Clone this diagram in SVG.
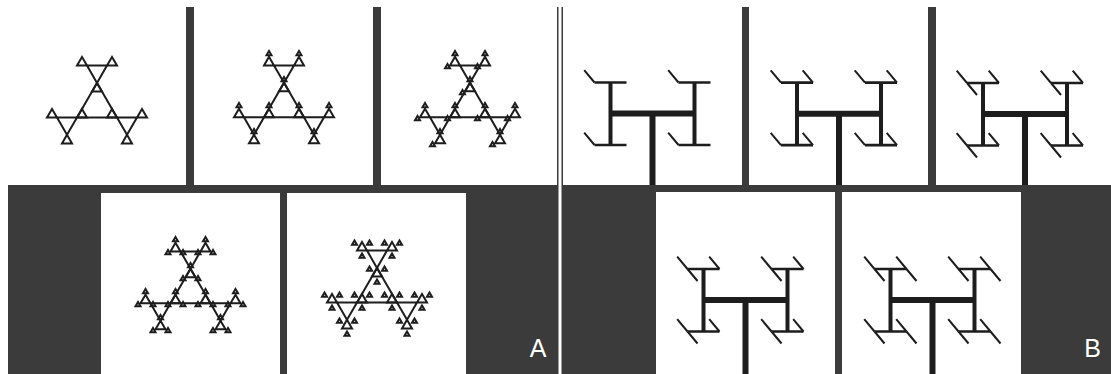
<svg xmlns="http://www.w3.org/2000/svg" xmlns:xlink="http://www.w3.org/1999/xlink" width="1111" height="374" viewBox="0 0 1111 374">
<style>
.panel{fill:#3b3b3b}
.cell{fill:#ffffff}
.lbl{font-family:"Liberation Sans",Arial,sans-serif;font-size:25px;fill:#ffffff;text-anchor:middle}
.trunk{fill:none;stroke:#1d1d1d;stroke-width:6}
</style>
<defs>
<path id="t" d="M0,-23.094L-20,11.547L20,11.547Z" fill="none" stroke="#1d1d1d" stroke-width="2" vector-effect="non-scaling-stroke"/>
<g id="R"><use href="#t"/><use href="#t" transform="matrix(-.5,0,0,-.5,0,-34.641)"/><use href="#t" transform="matrix(-.5,0,0,-.5,-30,17.321)"/><use href="#t" transform="matrix(-.5,0,0,-.5,30,17.321)"/></g>
<g id="P"><use href="#t"/><use href="#t" transform="matrix(.5,0,0,.5,0,-34.641)"/></g>
<g id="Q"><use href="#P"/><use href="#t" transform="matrix(.5,0,0,.5,-30,17.321)"/></g>
<g id="U"><use href="#Q"/><use href="#t" transform="matrix(.5,0,0,.5,30,17.321)"/></g>
<g id="S"><use href="#t"/><use href="#t" transform="matrix(.5,0,0,.5,0,34.641)"/><use href="#t" transform="matrix(.5,0,0,.5,30,-17.321)"/><use href="#t" transform="matrix(.5,0,0,.5,-30,-17.321)"/></g>
<g id="F2"><use href="#t"/><use href="#R" transform="matrix(-.5,0,0,-.5,0,-34.641)"/><use href="#R" transform="matrix(-.5,0,0,-.5,-30,17.321)"/><use href="#R" transform="matrix(-.5,0,0,-.5,30,17.321)"/></g>
<g id="HP"><use href="#t"/><use href="#P" transform="matrix(-.5,0,0,-.5,0,-34.641)"/><use href="#P" transform="matrix(-.5,0,0,-.5,-30,17.321)"/><use href="#P" transform="matrix(-.5,0,0,-.5,30,17.321)"/></g>
<g id="HHP"><use href="#t"/><use href="#HP" transform="matrix(-.5,0,0,-.5,0,-34.641)"/><use href="#HP" transform="matrix(-.5,0,0,-.5,-30,17.321)"/><use href="#HP" transform="matrix(-.5,0,0,-.5,30,17.321)"/></g>
<g id="HQ"><use href="#t"/><use href="#Q" transform="matrix(-.5,0,0,-.5,0,-34.641)"/><use href="#Q" transform="matrix(-.5,0,0,-.5,-30,17.321)"/><use href="#Q" transform="matrix(-.5,0,0,-.5,30,17.321)"/></g>
<g id="HHQ"><use href="#t"/><use href="#HQ" transform="matrix(-.5,0,0,-.5,0,-34.641)"/><use href="#HQ" transform="matrix(-.5,0,0,-.5,-30,17.321)"/><use href="#HQ" transform="matrix(-.5,0,0,-.5,30,17.321)"/></g>
<g id="HU"><use href="#t"/><use href="#U" transform="matrix(-.5,0,0,-.5,0,-34.641)"/><use href="#U" transform="matrix(-.5,0,0,-.5,-30,17.321)"/><use href="#U" transform="matrix(-.5,0,0,-.5,30,17.321)"/></g>
<g id="HHU"><use href="#t"/><use href="#HU" transform="matrix(-.5,0,0,-.5,0,-34.641)"/><use href="#HU" transform="matrix(-.5,0,0,-.5,-30,17.321)"/><use href="#HU" transform="matrix(-.5,0,0,-.5,30,17.321)"/></g>
<g id="HS"><use href="#t"/><use href="#S" transform="matrix(-.5,0,0,-.5,0,-34.641)"/><use href="#S" transform="matrix(-.5,0,0,-.5,-30,17.321)"/><use href="#S" transform="matrix(-.5,0,0,-.5,30,17.321)"/></g>
<g id="HHS"><use href="#t"/><use href="#HS" transform="matrix(-.5,0,0,-.5,0,-34.641)"/><use href="#HS" transform="matrix(-.5,0,0,-.5,-30,17.321)"/><use href="#HS" transform="matrix(-.5,0,0,-.5,30,17.321)"/></g>
<g id="H" fill="none" stroke="#1d1d1d">
<path d="M-42,0H42" stroke-width="6"/>
<path d="M-42,-31V31.5M42,-31V31.5" stroke-width="4"/>
<path d="M-58,-31H-26M-58,31.5H-26M26,-31H58M26,31.5H58" stroke-width="2.7"/>
</g>
<path id="ulL" d="M-58,-31l-10.3,-12.3M-58,31.5l-10.3,-12.3M26,-31l-10.3,-12.3M26,31.5l-10.3,-12.3" fill="none" stroke="#1d1d1d" stroke-width="2"/>
<path id="ulR" d="M-26,-31l-10.3,-12.3M-26,31.5l-10.3,-12.3M58,-31l-10.3,-12.3M58,31.5l-10.3,-12.3" fill="none" stroke="#1d1d1d" stroke-width="2"/>
<path id="drL" d="M-58,-31l10,12M-58,31.5l10,12M26,-31l10,12M26,31.5l10,12" fill="none" stroke="#1d1d1d" stroke-width="2"/>
<path id="drR" d="M-26,-31l10,12M-26,31.5l10,12M58,-31l10,12M58,31.5l10,12" fill="none" stroke="#1d1d1d" stroke-width="2"/>
</defs>
<rect width="1111" height="374" fill="#ffffff"/>
<g id="panelA">
<rect class="panel" x="8" y="7" width="550.5" height="367"/>
<rect class="cell" x="8" y="7" width="178" height="178"/>
<rect class="cell" x="194" y="7" width="179" height="178"/>
<rect class="cell" x="381" y="7" width="176" height="178"/>
<rect class="cell" x="101" y="193" width="179" height="181"/>
<rect class="cell" x="287" y="193" width="179" height="181"/>
<text class="lbl" x="538" y="357">A</text>
</g>
<g id="panelB">
<rect class="panel" x="561.5" y="7" width="549.5" height="367"/>
<rect class="cell" x="563" y="7" width="179" height="178"/>
<rect class="cell" x="749" y="7" width="179" height="178"/>
<rect class="cell" x="936" y="7" width="175" height="178"/>
<rect class="cell" x="656" y="192" width="179" height="182"/>
<rect class="cell" x="842" y="192" width="179" height="182"/>
<text class="lbl" x="1092.5" y="357">B</text>
</g>
<g id="a1" transform="translate(97,106)"><use href="#F2"/></g>
<g id="a2" transform="translate(284,105.8)"><use href="#HHP"/></g>
<g id="a3" transform="translate(470,105.8)"><use href="#HHQ"/></g>
<g id="a4" transform="translate(190.5,291.8)"><use href="#HHU"/></g>
<g id="a5" transform="translate(377,291)"><use href="#HHS"/></g>
<g id="b1" transform="translate(652.5,113.5)"><path class="trunk" d="M0,0V71.5"/><use href="#H"/><use href="#ulL"/></g>
<g id="b2" transform="translate(839,113.7)"><path class="trunk" d="M0,0V71.3"/><use href="#H"/><use href="#ulL"/><use href="#ulR"/></g>
<g id="b3" transform="translate(1025,114)"><path class="trunk" d="M0,0V71"/><use href="#H"/><use href="#ulL"/><use href="#ulR"/><use href="#drL"/></g>
<g id="b4" transform="translate(745.5,300)"><path class="trunk" d="M0,0V74"/><use href="#H"/><use href="#ulL"/><use href="#ulR"/><use href="#drL"/></g>
<g id="b5" transform="translate(932.5,300)"><path class="trunk" d="M0,0V74"/><use href="#H"/><use href="#ulL"/><use href="#ulR"/><use href="#drL"/><use href="#drR"/></g>
</svg>
